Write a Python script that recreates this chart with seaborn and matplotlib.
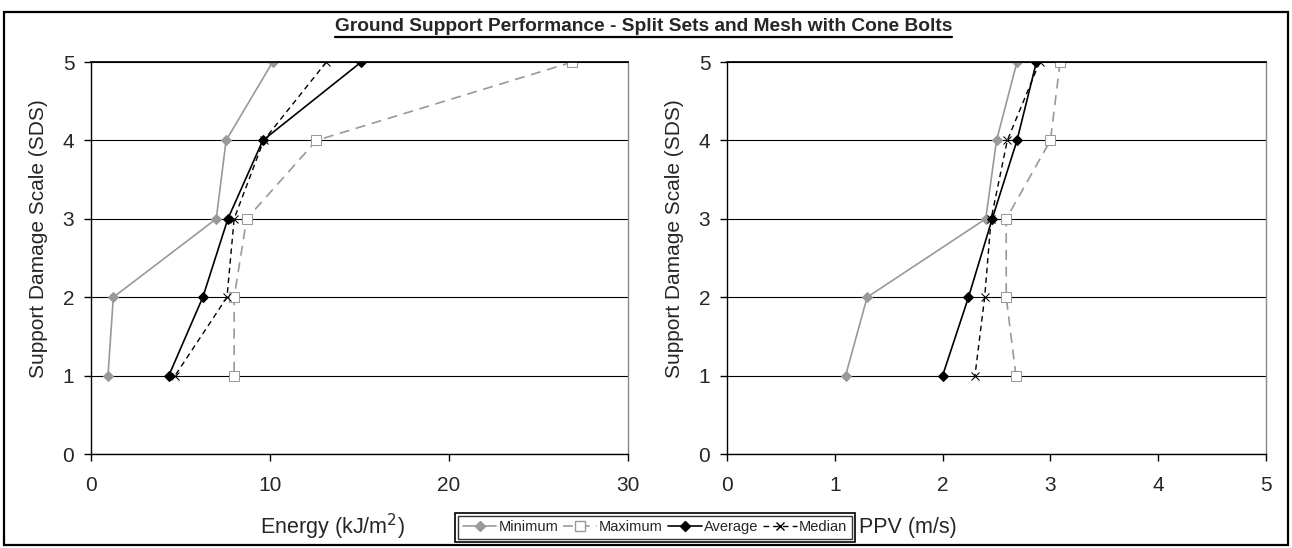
import matplotlib
matplotlib.use("Agg")
import matplotlib.pyplot as plt
import seaborn as sns
import pandas as pd
from matplotlib.patches import Rectangle
from matplotlib.lines import Line2D

# ---------------- data ----------------
sds_levels = [5, 4, 3, 2, 1]
series_names = ["Minimum", "Maximum", "Average", "Median"]

energy_min = [10.15, 7.55, 7.0, 1.25, 0.95]
energy_max = [26.9, 12.6, 8.7, 8.0, 8.0]
energy_avg = [15.1, 9.6, 7.65, 6.25, 4.35]
energy_med = [13.15, 9.65, 8.0, 7.6, 4.7]

ppv_min = [2.69, 2.50, 2.40, 1.30, 1.10]
ppv_max = [3.09, 3.00, 2.59, 2.59, 2.68]
ppv_avg = [2.87, 2.69, 2.46, 2.24, 2.00]
ppv_med = [2.90, 2.60, 2.45, 2.39, 2.30]

title = "Ground Support Performance - Split Sets and Mesh with Cone Bolts"
ylabel = "Support Damage Scale (SDS)"
xlabel_left = "Energy (kJ/m$^2$)"
xlabel_right = "PPV (m/s)"
left_xticks = [0, 10, 20, 30]
right_xticks = [0, 1, 2, 3, 4, 5]
yticks = [0, 1, 2, 3, 4, 5]

# ---------------- style ----------------
sns.set_theme(style="white")
plt.rcParams["font.family"] = ["Liberation Sans", "DejaVu Sans"]

styles = {
    "Minimum": dict(color="#999999", linestyle="-", marker="D", markersize=5,
                    markerfacecolor="#999999", markeredgecolor="#999999", linewidth=1.2),
    "Maximum": dict(color="#999999", linestyle=(0, (6, 4)), marker="s", markersize=7,
                    markerfacecolor="white", markeredgecolor="#999999", linewidth=1.2),
    "Average": dict(color="black", linestyle="-", marker="D", markersize=5,
                    markerfacecolor="black", markeredgecolor="black", linewidth=1.2),
    "Median": dict(color="black", linestyle=(0, (4, 3)), marker="x", markersize=6,
                   markerfacecolor="black", markeredgecolor="black", linewidth=1.0),
}

fig = plt.figure(figsize=(12.92, 5.48), dpi=100)
ax1 = fig.add_axes([0.0704, 0.1715, 0.4156, 0.7153])
ax2 = fig.add_axes([0.5627, 0.1715, 0.4172, 0.7153])

def draw(ax, vals, xlim, xticks):
    for name, v in zip(series_names, vals):
        df = pd.DataFrame({"x": v, "y": sds_levels})
        sns.lineplot(data=df, x="x", y="y", sort=False, estimator=None, ax=ax,
                     label=name, legend=False, **styles[name])
    ax.set_xlim(*xlim)
    ax.set_ylim(0, 5)
    ax.set_xticks(xticks)
    ax.set_yticks(yticks)
    ax.set_xlabel("")
    ax.set_ylabel(ylabel, fontsize=15)
    ax.yaxis.set_label_coords(-0.08, 0.55)
    ax.grid(axis="y", color="black", linewidth=0.8)
    ax.grid(axis="x", visible=False)
    ax.set_axisbelow(True)
    for s in ["left", "bottom"]:
        ax.spines[s].set_color("black")
        ax.spines[s].set_linewidth(1.0)
    ax.spines["top"].set_color("black")
    ax.spines["right"].set_color("#888888")
    ax.spines["right"].set_linewidth(1.0)
    ax.tick_params(axis="both", direction="out", length=5, width=1, color="black",
                   labelsize=15, bottom=True, left=True)
    ax.tick_params(axis="x", pad=11)
    ax.tick_params(axis="y", pad=7)

draw(ax1, [energy_min, energy_max, energy_avg, energy_med], (0, 30), left_xticks)
draw(ax2, [ppv_min, ppv_max, ppv_avg, ppv_med], (0, 5), right_xticks)

fig.text(0.257, 0.038, xlabel_left, ha="center", va="center", fontsize=15.5)
fig.text(0.703, 0.038, xlabel_right, ha="center", va="center", fontsize=15.5)

t = fig.text(0.498, 0.951, title, ha="center", va="center", fontsize=13.8,
             fontweight="bold")

handles = [Line2D([0], [0], **styles[n]) for n in series_names]
leg = fig.legend(handles, series_names, loc="center", bbox_to_anchor=(0.507, 0.038),
                 ncol=4, fontsize=10.5, frameon=True, fancybox=False,
                 handlelength=2.3, handletextpad=0.15, columnspacing=0.35,
                 borderpad=0.3, borderaxespad=0.2, edgecolor="black")
leg.get_frame().set_linewidth(1.0)

fig.canvas.draw()
r = fig.canvas.get_renderer()
# underline for the title
bb = t.get_window_extent(r).transformed(fig.transFigure.inverted())
fig.add_artist(Line2D([bb.x0, bb.x1], [bb.y0 - 0.003, bb.y0 - 0.003],
                      transform=fig.transFigure, color="black", linewidth=1.6))
# double border around legend
lb = leg.get_window_extent(r).transformed(fig.transFigure.inverted())
dx, dy = 3 / 1292, 3 / 548
fig.add_artist(Rectangle((lb.x0 - dx, lb.y0 - dy), lb.width + 2 * dx, lb.height + 2 * dy,
                         transform=fig.transFigure, fill=False, edgecolor="black",
                         linewidth=1.2))
# outer border
fig.add_artist(Rectangle((4 / 1292, 3 / 548), 1284 / 1292, 533 / 548,
                         transform=fig.transFigure, fill=False, edgecolor="black",
                         linewidth=1.6))

fig.savefig("out.png", dpi=100, facecolor="white")
